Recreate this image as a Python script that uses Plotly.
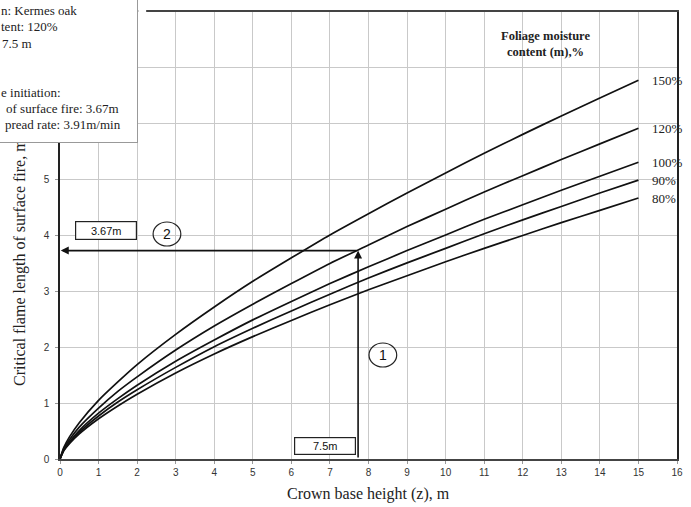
import plotly.graph_objects as go

# ---- data ----
crown_base_height = [0, 0.1, 0.25, 0.5, 1, 1.5, 2, 3, 4, 5, 6, 7, 8, 9, 10, 11, 12, 13, 14, 15]
moisture_labels = ["80%", "90%", "100%", "120%", "150%"]
flame_80 = [0, 0.15, 0.28, 0.45, 0.72, 0.95, 1.16, 1.54, 1.88, 2.19, 2.48, 2.76, 3.03, 3.28, 3.53, 3.77, 4.00, 4.23, 4.45, 4.67]
flame_90 = [0, 0.16, 0.30, 0.48, 0.77, 1.02, 1.24, 1.64, 2.01, 2.34, 2.65, 2.95, 3.24, 3.51, 3.77, 4.03, 4.28, 4.52, 4.76, 4.99]
flame_100 = [0, 0.17, 0.31, 0.51, 0.82, 1.08, 1.32, 1.75, 2.13, 2.49, 2.82, 3.14, 3.44, 3.73, 4.01, 4.29, 4.55, 4.81, 5.06, 5.31]
flame_120 = [0, 0.19, 0.35, 0.57, 0.91, 1.21, 1.47, 1.95, 2.38, 2.77, 3.14, 3.50, 3.83, 4.16, 4.47, 4.78, 5.07, 5.36, 5.64, 5.92]
flame_150 = [0, 0.21, 0.40, 0.65, 1.05, 1.38, 1.69, 2.23, 2.72, 3.18, 3.60, 4.01, 4.39, 4.76, 5.12, 5.47, 5.81, 6.14, 6.46, 6.78]
series = [flame_80, flame_90, flame_100, flame_120, flame_150]

x_ticks = list(range(0, 17))
x_tick_labels = [str(v) for v in x_ticks]
y_ticks = list(range(0, 9))
# labels 6-8 are hidden behind the info box in the reference
y_tick_labels = ["0", "1", "2", "3", "4", "5", "", "", ""]

# guide markers (as drawn in the figure)
guide_z = 7.73
guide_L = 3.73
label_z = "7.5m"
label_L = "3.67m"

info_lines = ["n: Kermes oak", "tent: 120%", "7.5 m", "e initiation:", "of surface fire: 3.67m", "pread rate: 3.91m/min"]

# ---- geometry ----
W, H = 691, 507
ML, MR, MT, MB = 60, 8, 12, 48
PW = W - ML - MR
PH = H - MT - MB


def px(xp):
    return (xp - ML) / PW


def py(yp):
    return (H - MB - yp) / PH


SERIF = "Liberation Serif, Times New Roman, serif"
SANS = "Liberation Sans, Arial, sans-serif"

fig = go.Figure()
for vals in series:
    fig.add_trace(go.Scatter(x=crown_base_height, y=vals, mode="lines",
                             line=dict(color="#111", width=1.7, shape="spline", smoothing=0.6),
                             showlegend=False, hoverinfo="skip"))

ann = []
# curve end labels
for lab, vals in zip(moisture_labels, series):
    ann.append(dict(x=15.3, y=vals[-1], xref="x", yref="y", text=lab, showarrow=False,
                    xanchor="left", yanchor="middle", font=dict(family=SERIF, size=13, color="#222")))
# legend title
ann.append(dict(x=px(550), y=py(44), xref="paper", yref="paper",
                text="<b>Foliage moisture<br>content (m),%</b>", showarrow=False,
                xanchor="center", yanchor="middle", align="center",
                font=dict(family=SERIF, size=12.5, color="#222")))
# arrows
ann.append(dict(x=guide_z, y=guide_L, ax=guide_z, ay=0, xref="x", yref="y", axref="x", ayref="y",
                text="", showarrow=True, arrowhead=2, arrowsize=1, arrowwidth=1.6, arrowcolor="#111", standoff=0))
ann.append(dict(x=0.02, y=guide_L, ax=guide_z, ay=guide_L, xref="x", yref="y", axref="x", ayref="y",
                text="", showarrow=True, arrowhead=2, arrowsize=1, arrowwidth=1.6, arrowcolor="#111", standoff=0))
# labelled boxes
ann.append(dict(x=px(106), y=py(231), xref="paper", yref="paper", text=label_L, showarrow=False,
                xanchor="center", yanchor="middle",
                width=58, height=15, bgcolor="white", bordercolor="#222", borderwidth=1.2, borderpad=1,
                font=dict(family=SANS, size=11, color="#111")))
ann.append(dict(x=px(328), y=py(446), xref="paper", yref="paper", text=label_z, showarrow=False,
                xanchor="center", yanchor="middle",
                width=58, height=14, bgcolor="white", bordercolor="#222", borderwidth=1.2, borderpad=1,
                font=dict(family=SANS, size=11, color="#111")))
# circled numbers
for num, cx, cy in [("2", 168, 234), ("1", 386, 355)]:
    ann.append(dict(x=px(cx), y=py(cy), xref="paper", yref="paper", text=num, showarrow=False,
                    xanchor="center", yanchor="middle",
                    font=dict(family=SANS, size=14, color="#111")))
# axis titles
ann.append(dict(x=px(371), y=py(494), xref="paper", yref="paper", text="Crown base height (z), m",
                showarrow=False, xanchor="center", yanchor="middle",
                font=dict(family=SERIF, size=16, color="#222")))
ann.append(dict(x=px(19), y=py(388), xref="paper", yref="paper",
                text="Critical flame length of surface fire, m", textangle=-90,
                showarrow=False, xanchor="center", yanchor="bottom",
                font=dict(family=SERIF, size=16, color="#222")))
# info box (drawn over the y title)
ann.append(dict(x=px(139), y=py(143), xref="paper", yref="paper", text=" ", showarrow=False,
                xanchor="right", yanchor="bottom", width=220, height=180,
                bgcolor="white", bordercolor="#999", borderwidth=1))
for txt, xx, yy in zip(info_lines, [-2, -2, -1, -2, 3, 2], [11, 27, 43, 92, 108, 124]):
    ann.append(dict(x=px(xx), y=py(yy), xref="paper", yref="paper", text=txt, showarrow=False,
                    xanchor="left", yanchor="middle",
                    font=dict(family=SERIF, size=13, color="#222")))

shapes = [
    dict(type="line", xref="paper", yref="paper", x0=px(0), x1=px(60), y0=py(100), y1=py(100),
         line=dict(color="#222", width=1)),
    dict(type="circle", xref="paper", yref="paper", x0=px(154), x1=px(182),
         y0=py(246), y1=py(222), line=dict(color="#222", width=1.2)),
    dict(type="circle", xref="paper", yref="paper", x0=px(372), x1=px(400),
         y0=py(367), y1=py(343), line=dict(color="#222", width=1.2)),
    # small white gap where the top frame line is missing next to the info box
    dict(type="rect", xref="paper", yref="paper", x0=px(139), x1=px(147), y0=py(16), y1=py(6),
         fillcolor="white", line=dict(width=0), layer="above"),
]

fig.update_layout(
    width=W, height=H, margin=dict(l=ML, r=MR, t=MT, b=MB),
    paper_bgcolor="white", plot_bgcolor="white",
    annotations=ann, shapes=shapes, showlegend=False,
    xaxis=dict(range=[0, 16], tickvals=x_ticks, ticktext=x_tick_labels, showgrid=True,
               gridcolor="#c9c9c9", gridwidth=1,
               showline=True, linecolor="#444", linewidth=1.8, mirror=True, zeroline=False,
               ticks="outside", ticklen=3, tickcolor="#999",
               tickfont=dict(family=SANS, size=10, color="#333")),
    yaxis=dict(range=[0, 8], tickvals=y_ticks, ticktext=y_tick_labels, showgrid=True,
               gridcolor="#c9c9c9", gridwidth=1,
               showline=True, linecolor="#222", linewidth=1.6, mirror=True, zeroline=False,
               ticks="outside", ticklen=3, tickcolor="#999", ticklabelstandoff=4,
               tickfont=dict(family=SANS, size=10, color="#333")),
)

fig.write_html("out.html", config={"displayModeBar": False},
               post_script="document.body.style.margin='0';document.body.style.padding='0';")
